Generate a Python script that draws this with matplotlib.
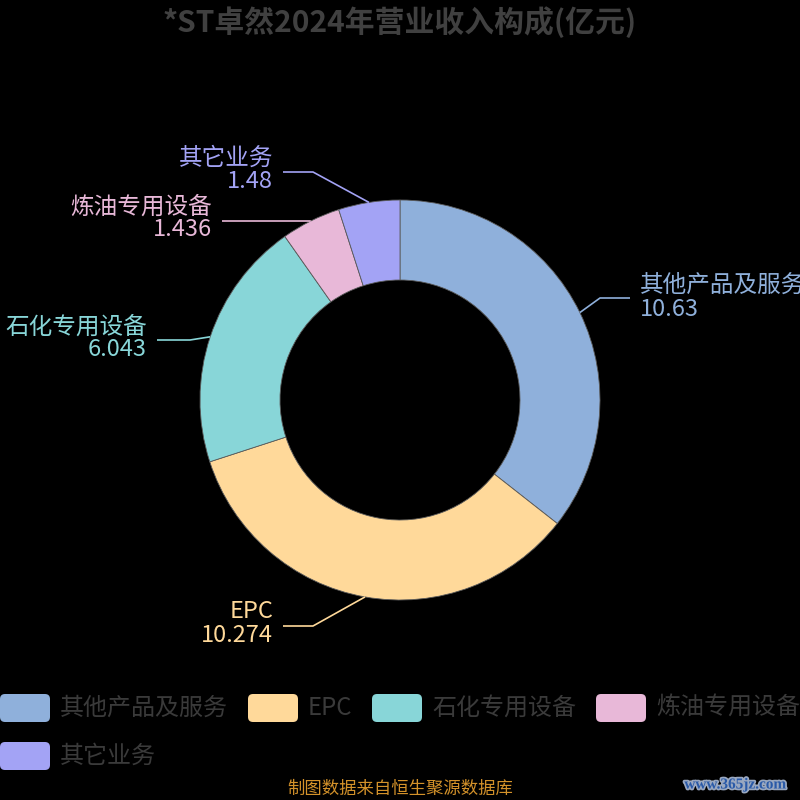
import numpy as np
import matplotlib
matplotlib.use("Agg")
import matplotlib.pyplot as plt
from matplotlib.patches import FancyBboxPatch
import matplotlib.patheffects as pe

plt.rcParams['font.family'] = ['Noto Sans CJK SC', 'DejaVu Sans']

# ---- data ----
title = "*ST卓然2024年营业收入构成(亿元)"
categories = ["其他产品及服务", "EPC", "石化专用设备", "炼油专用设备", "其它业务"]
values = [10.63, 10.274, 6.043, 1.436, 1.48]
value_labels = ["10.63", "10.274", "6.043", "1.436", "1.48"]
colors = ["#8FB0DB", "#FFD99A", "#88D6D8", "#E8B8D8", "#A3A3F5"]
footer = "制图数据来自恒生聚源数据库"
watermark = "www.365jz.com"

W = H = 800
fig = plt.figure(figsize=(8, 8), dpi=100, facecolor="black")
ax = fig.add_axes([0, 0, 1, 1])
ax.set_facecolor("black")

def Y(py):
    return H - py

CX, CY, R, RIN = 400, 400, 200, 120
wedges, _ = ax.pie(values, colors=colors, startangle=90, counterclock=False,
                   center=(CX, Y(CY)), radius=R,
                   wedgeprops=dict(width=R - RIN, edgecolor="#5a5a5a", linewidth=0.6))

# label layout (pixel coordinates): elbow, line end, text x, alignment, name y, value y
layout = [
    dict(elbow=(600, 298), end=(630, 298), tx=640, ha="left", ny=285, vy=309),
    dict(elbow=(313, 626), end=(283, 626), tx=273, ha="right", ny=611, vy=636),
    dict(elbow=(190, 340), end=(157, 340), tx=147, ha="right", ny=327, vy=350),
    dict(elbow=(300, 221), end=(222, 221), tx=212, ha="right", ny=207, vy=230),
    dict(elbow=(313, 172), end=(283, 172), tx=273, ha="right", ny=158, vy=181),
]

for w, lay, name, vl, col in zip(wedges, layout, categories, value_labels, colors):
    mid = np.deg2rad((w.theta1 + w.theta2) / 2)
    sx, sy = CX + R * np.cos(mid), Y(CY) + R * np.sin(mid)
    ex, ey = lay["elbow"]
    fx, fy = lay["end"]
    ax.plot([sx, ex, fx], [sy, Y(ey), Y(fy)], color=col, lw=1.2, solid_capstyle="butt")
    ax.text(lay["tx"], Y(lay["ny"]), name, color=col, fontsize=17, ha=lay["ha"], va="center")
    ax.text(lay["tx"], Y(lay["vy"]), vl, color=col, fontsize=17, ha=lay["ha"], va="center")

# title
ax.text(400, Y(22), title, color="#404040", fontsize=21.5, fontweight="bold", ha="center", va="center")

# legend
leg_pos = [(0, 708), (248, 708), (372, 708), (596, 708), (0, 756)]
for (lx, ly), name, col in zip(leg_pos, categories, colors):
    box = FancyBboxPatch((lx + 5, Y(ly) - 14 + 5), 40, 18,
                         boxstyle="round,pad=5", facecolor=col, edgecolor="none")
    ax.add_patch(box)
    ax.text(lx + 60, Y(ly), name, color="#3a3a3a", fontsize=17.3, ha="left", va="center")

# footer
ax.text(400, Y(789), footer, color="#D4922A", fontsize=12.5, ha="center", va="center")
ax.text(735, Y(785), watermark, color="#2A5AA8", fontsize=11, fontweight="bold",
        family="Liberation Serif", ha="center", va="center",
        path_effects=[pe.withStroke(linewidth=2.5, foreground="#9aa8c0")])

ax.set_xlim(0, W)
ax.set_ylim(0, H)
ax.set_aspect("equal")
ax.set_axis_off()

fig.savefig("out.png", dpi=100, facecolor="black")
